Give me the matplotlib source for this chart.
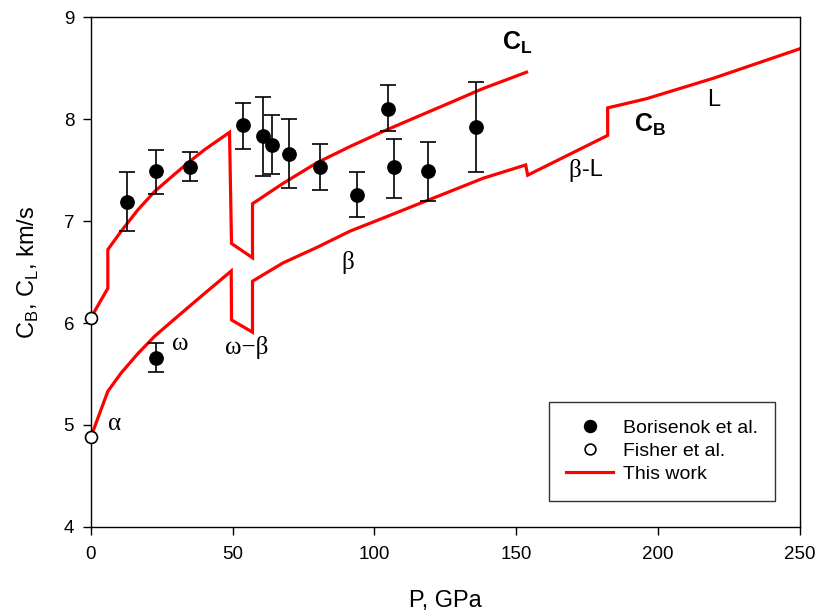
import numpy as np
import matplotlib
matplotlib.use("Agg")
import matplotlib.pyplot as plt

plt.rcParams['font.family'] = ['Liberation Sans', 'DejaVu Sans']
plt.rcParams['mathtext.fontset'] = 'custom'
plt.rcParams['mathtext.rm'] = 'Liberation Sans'
plt.rcParams['mathtext.bf'] = 'Liberation Sans:bold'

# Borisenok et al. (experimental points with error bars)
bor_p = [12.9, 23.1, 34.9, 53.8, 60.8, 63.8, 69.8, 80.7, 93.9, 104.8, 106.8, 118.7, 135.8, 23.1]
bor_v = [7.19, 7.49, 7.53, 7.94, 7.83, 7.75, 7.66, 7.53, 7.26, 8.10, 7.53, 7.49, 7.92, 5.66]
bor_hi = [7.48, 7.70, 7.68, 8.16, 8.22, 8.04, 8.00, 7.76, 7.48, 8.33, 7.80, 7.78, 8.36, 5.80]
bor_lo = [6.90, 7.27, 7.39, 7.71, 7.44, 7.46, 7.32, 7.30, 7.04, 7.88, 7.23, 7.20, 7.48, 5.52]

# Fisher et al.
fis_p = [0, 0]
fis_v = [6.05, 4.88]

# This work: C_L curve
cl_p = [0, 6.0, 6.0, 10.7, 16.6, 22.5, 28.3, 34.2, 40.1, 48.9, 49.6, 57.0, 57.0,
        67.8, 79.6, 91.3, 103.1, 114.8, 126.6, 138.3, 153.6]
cl_v = [6.05, 6.34, 6.72, 6.90, 7.11, 7.29, 7.43, 7.57, 7.70, 7.87, 6.78, 6.64, 7.17,
        7.37, 7.57, 7.73, 7.88, 8.02, 8.16, 8.30, 8.46]

# This work: C_B curve
cb_p = [0, 6.0, 10.7, 16.6, 22.5, 28.3, 34.2, 40.1, 49.5, 49.6, 57.0, 57.0,
        67.8, 79.6, 91.3, 103.1, 114.8, 126.6, 138.3, 153.3, 154.0, 182.2, 182.2,
        195.9, 219.4, 250]
cb_v = [4.88, 5.33, 5.51, 5.70, 5.87, 6.01, 6.15, 6.29, 6.51, 6.03, 5.91, 6.41,
        6.59, 6.74, 6.90, 7.03, 7.16, 7.29, 7.42, 7.55, 7.45, 7.84, 8.11,
        8.20, 8.40, 8.69]

fig = plt.figure(figsize=(8.18, 6.12), dpi=100)
ax = fig.add_axes([0.111, 0.139, 0.867, 0.833])

red = '#ff0000'
ax.plot(cl_p, cl_v, color=red, lw=2.3, solid_joinstyle='miter', zorder=2)
ax.plot(cb_p, cb_v, color=red, lw=2.3, solid_joinstyle='miter', zorder=2,
        label='This work')

bor_v_arr = np.array(bor_v)
yerr = [bor_v_arr - np.array(bor_lo), np.array(bor_hi) - bor_v_arr]
ax.errorbar(bor_p, bor_v, yerr=yerr, fmt='o', color='black', ms=9.6,
            elinewidth=1.2, capsize=5.5, capthick=1.2, zorder=3)
ax.plot([], [], 'o', color='black', ms=9.6, label='Borisenok et al.')
ax.plot(fis_p, fis_v, 'o', mfc='white', mec='black', ms=8.6, mew=1.2,
        clip_on=False, zorder=4, label='Fisher et al.')

serif = ['Liberation Serif', 'DejaVu Serif']
ax.text(150.2, 8.75, r'$\mathbf{C}_\mathbf{L}$', fontsize=18, ha='center', va='center')
ax.text(197.1, 7.94, r'$\mathbf{C}_\mathbf{B}$', fontsize=18, ha='center', va='center')
ax.text(219.7, 8.19, 'L', fontsize=17, ha='center', va='center')
ax.text(173.0, 7.50, 'β', fontsize=18, ha='right', va='center', family=serif)
ax.text(173.0, 7.50, '-L', fontsize=17, ha='left', va='center')
ax.text(90.6, 6.59, 'β', fontsize=18, ha='center', va='center', family=serif)
ax.text(31.4, 5.79, 'ω', fontsize=18, ha='center', va='center', family=serif)
ax.text(55.0, 5.76, 'ω−β', fontsize=18, ha='center', va='center', family=serif)
ax.text(8.5, 5.01, 'α', fontsize=18, ha='center', va='center', family=serif)

ax.set_xlim(0, 250)
ax.set_ylim(4, 9)
ax.set_xticks([0, 50, 100, 150, 200, 250])
ax.set_yticks([4, 5, 6, 7, 8, 9])
ax.tick_params(direction='out', length=6, width=1, labelsize=13.5, pad=8)
ax.tick_params(axis='y', pad=6)
for s in ax.spines.values():
    s.set_linewidth(1)

ax.set_xlabel('P, GPa', fontsize=17, labelpad=19)
ax.set_ylabel(r'C$_\mathrm{B}$, C$_\mathrm{L}$, km/s', fontsize=17, labelpad=16)

h, l = ax.get_legend_handles_labels()
order = [l.index('Borisenok et al.'), l.index('Fisher et al.'), l.index('This work')]
leg = ax.legend([h[i] for i in order], [l[i] for i in order], loc='upper left',
                bbox_to_anchor=(0.646, 0.245), fontsize=14, frameon=True,
                fancybox=False, edgecolor='black', handlelength=2.4,
                handletextpad=0.5, borderpad=0.9, labelspacing=0.28,
                markerscale=0.9, borderaxespad=0)
leg.get_frame().set_linewidth(1)

fig.savefig('out.png', dpi=100)
